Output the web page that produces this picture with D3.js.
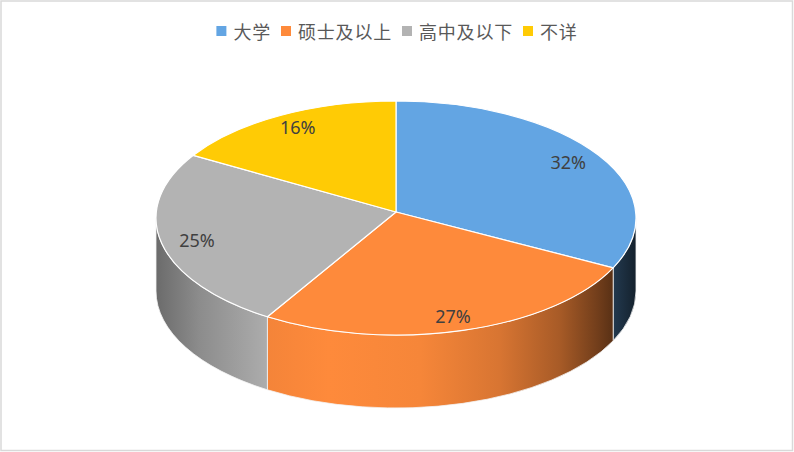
<!DOCTYPE html>
<html>
<head>
<meta charset="utf-8">
<script src="https://cdn.jsdelivr.net/npm/d3@7"></script>
<style>
  html, body { margin: 0; padding: 0; background: #fff; }
  svg { display: block; }
</style>
</head>
<body>
<svg id="chart" width="794" height="452"></svg>
<script>
// 学历分布
const categories = ["大学", "硕士及以上", "高中及以下", "不详"];
const values = [32, 27, 25, 16];
const colors = ["#63a5e3", "#fe8a3b", "#b3b3b3", "#ffcb05"];

const W = 794, H = 452;
const cx = 396, cy = 218;     // 顶面椭圆中心
const apex = [396, 212];      // 扇形交点（透视偏移）
const rx = 240, ry = 117, depth = 73;

const svg = d3.select("#chart");

svg.append("rect")
  .attr("x", 1).attr("y", 1)
  .attr("width", W - 2.5).attr("height", H - 2.5)
  .attr("fill", "#fff")
  .attr("stroke", "#d9d9d9")
  .attr("stroke-width", 1.5);

const pie = d3.pie().sort(null).startAngle(0).endAngle(2 * Math.PI);
const arcs = pie(values);

const pt = (a, dy = 0) => [cx + rx * Math.sin(a), cy - ry * Math.cos(a) + dy];

// ── 侧面渐变（左暗、中亮、右最暗） ──────────────────────────────
const shade = [
  [0, 0.6], [0.09, 0.78], [0.23, 0.96], [0.36, 1.0],
  [0.55, 0.97], [0.715, 0.85], [0.84, 0.66], [0.92, 0.45], [1, 0.2],
];
const defs = svg.append("defs");
colors.forEach((c, i) => {
  const base = d3.rgb(c);
  const g = defs.append("linearGradient")
    .attr("id", `side-${i}`)
    .attr("gradientUnits", "userSpaceOnUse")
    .attr("x1", cx - rx).attr("x2", cx + rx)
    .attr("y1", 0).attr("y2", 0);
  shade.forEach(([o, k]) => {
    g.append("stop")
      .attr("offset", o)
      .attr("stop-color", d3.rgb(base.r * k, base.g * k, base.b * k).formatHex());
  });
});

// ── 侧面（只画前半圈 90°–270°） ─────────────────────────────────
const lo = Math.PI / 2, hi = Math.PI * 1.5;
arcs.forEach((d, i) => {
  const a0 = Math.max(d.startAngle, lo);
  const a1 = Math.min(d.endAngle, hi);
  if (a1 <= a0) return;
  const p0 = pt(a0), p1 = pt(a1);
  const q0 = pt(a0, depth), q1 = pt(a1, depth);
  const large = a1 - a0 > Math.PI ? 1 : 0;
  const path = `M${p0}A${rx},${ry} 0 ${large} 1 ${p1}` +
    `L${q1}A${rx},${ry} 0 ${large} 0 ${q0}Z`;
  svg.append("path")
    .attr("d", path)
    .attr("fill", `url(#side-${i})`)
    .attr("stroke", "#f2f2f2")
    .attr("stroke-width", 0.8);
});

// ── 顶面扇形 ────────────────────────────────────────────────────
arcs.forEach((d, i) => {
  const p0 = pt(d.startAngle), p1 = pt(d.endAngle);
  const large = d.endAngle - d.startAngle > Math.PI ? 1 : 0;
  svg.append("path")
    .attr("d", `M${apex}L${p0}A${rx},${ry} 0 ${large} 1 ${p1}Z`)
    .attr("fill", colors[i])
    .attr("stroke", "#fff")
    .attr("stroke-width", 1.2)
    .attr("stroke-linejoin", "round");
});

// ── 数据标签 ────────────────────────────────────────────────────
const total = d3.sum(values);
arcs.forEach((d) => {
  const m = (d.startAngle + d.endAngle) / 2;
  const e = pt(m);
  const x = apex[0] + 0.85 * (e[0] - apex[0]);
  const y = apex[1] + 0.88 * (e[1] - apex[1]);
  svg.append("text")
    .attr("x", x).attr("y", y)
    .attr("text-anchor", "middle")
    .attr("dominant-baseline", "central")
    .attr("font-family", "'Noto Sans', 'DejaVu Sans', sans-serif")
    .attr("font-size", 18)
    .attr("fill", "#404040")
    .text(`${Math.round((d.data / total) * 100)}%`);
});

// ── 图例 ────────────────────────────────────────────────────────
const legend = svg.append("g");
let lx = 0;
categories.forEach((name, i) => {
  const item = legend.append("g").attr("transform", `translate(${lx},0)`);
  item.append("rect")
    .attr("x", 0).attr("y", -5)
    .attr("width", 10).attr("height", 10)
    .attr("fill", colors[i]);
  const t = item.append("text")
    .attr("x", 17).attr("y", 0)
    .attr("dominant-baseline", "central")
    .attr("font-family", "'Noto Sans CJK SC', sans-serif")
    .attr("font-size", 18)
    .attr("letter-spacing", 0.8)
    .attr("fill", "#595959")
    .text(name);
  lx += 17 + t.node().getComputedTextLength() + 10;
});
const lw = lx - 10;
legend.attr("transform", `translate(${(W - lw) / 2},31)`);
</script>
</body>
</html>
